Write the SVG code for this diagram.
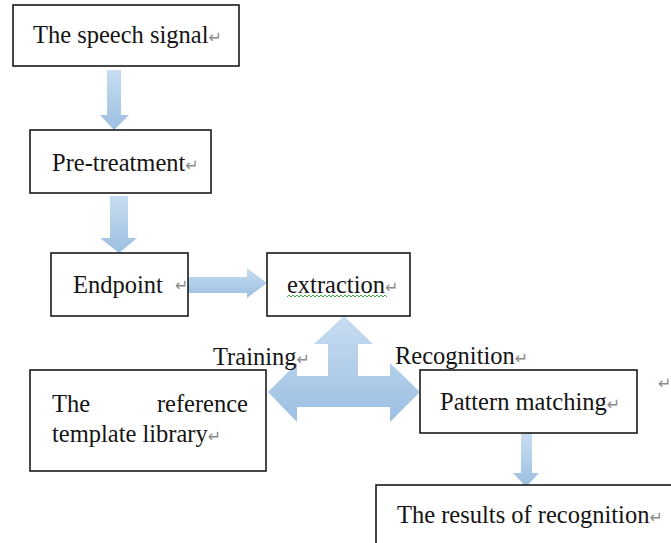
<svg xmlns="http://www.w3.org/2000/svg" width="671" height="543" viewBox="0 0 671 543">
<style>
.box{fill:#fff;stroke:#1a1a1a;stroke-width:1.6}
.t{font-family:"Liberation Serif","Times New Roman",serif;font-size:24.5px;fill:#141414}
.rm{font-family:"DejaVu Sans",sans-serif;font-size:16px;fill:#8a8a8a}
.arr{fill:url(#g)}
</style>
<defs>
<linearGradient id="g" x1="0" y1="0" x2="0" y2="1">
<stop offset="0" stop-color="#c8ddf1"/>
<stop offset="1" stop-color="#9cbfe2"/>
</linearGradient>
</defs>
<g id="connectors">
<polygon class="arr" points="107,70 121,70 121,115 129,115 114,130 100,115 107,115"/>
<polygon class="arr" points="110,196 128,196 128,238 137,238 119,253 100,238 110,238"/>
<polygon class="arr" points="187,277 247,277 247,268 267,283 247,298 247,293 187,293"/>
<polygon class="arr" points="344,316 373,344 358,344 358,376 390,376 390,363 420,392 390,422 390,407 297,407 297,422 268,392 297,363 297,376 328,376 328,344 314,344"/>
<polygon class="arr" points="521,433 532,433 532,473 539,473 526,487 513,473 521,473"/>
</g>
<g id="speech-signal">
<rect class="box" x="13" y="5" width="226" height="61"/>
<text class="t" x="33" y="43">The speech signal<tspan class="rm">↵</tspan></text>
</g>
<g id="pre-treatment">
<rect class="box" x="30" y="130" width="181" height="63"/>
<text class="t" x="52" y="171">Pre-treatment<tspan class="rm">↵</tspan></text>
</g>
<g id="endpoint">
<rect class="box" x="51" y="253" width="137" height="63"/>
<text class="t" x="73" y="293">Endpoint</text>
<text class="rm" x="175" y="291">↵</text>
</g>
<g id="extraction">
<rect class="box" x="267" y="253" width="143" height="63"/>
<text class="t" x="287" y="293">extraction<tspan class="rm">↵</tspan></text>
<path d="M287,297 l2,-2 l2,2 l2,-2 l2,2 l2,-2 l2,2 l2,-2 l2,2 l2,-2 l2,2 l2,-2 l2,2 l2,-2 l2,2 l2,-2 l2,2 l2,-2 l2,2 l2,-2 l2,2 l2,-2 l2,2 l2,-2 l2,2 l2,-2 l2,2 l2,-2 l2,2 l2,-2 l2,2 l2,-2 l2,2 l2,-2 l2,2 l2,-2 l2,2 l2,-2 l2,2 l2,-2 l2,2 l2,-2 l2,2 l2,-2 l2,2 l2,-2 l2,2 l2,-2 l2,2 l2,-2 l2,2" fill="none" stroke="#3fae3f" stroke-width="1"/>
</g>
<g id="labels">
<text class="t" x="213" y="365">Training<tspan class="rm">↵</tspan></text>
<text class="t" x="395" y="364">Recognition<tspan class="rm">↵</tspan></text>
<text class="rm" x="658" y="389">↵</text>
</g>
<g id="reference-library">
<rect class="box" x="30" y="370" width="236" height="101"/>
<text class="t" x="52" y="412">The</text>
<text class="t" x="248" y="412" text-anchor="end">reference</text>
<text class="t" x="52" y="442">template library<tspan class="rm">↵</tspan></text>
</g>
<g id="pattern-matching">
<rect class="box" x="420" y="370" width="217" height="63"/>
<text class="t" x="440" y="410">Pattern matching<tspan class="rm">↵</tspan></text>
</g>
<g id="results">
<rect class="box" x="376" y="485" width="310" height="80"/>
<text class="t" x="397" y="523">The results of recognition<tspan class="rm">↵</tspan></text>
</g>
</svg>
